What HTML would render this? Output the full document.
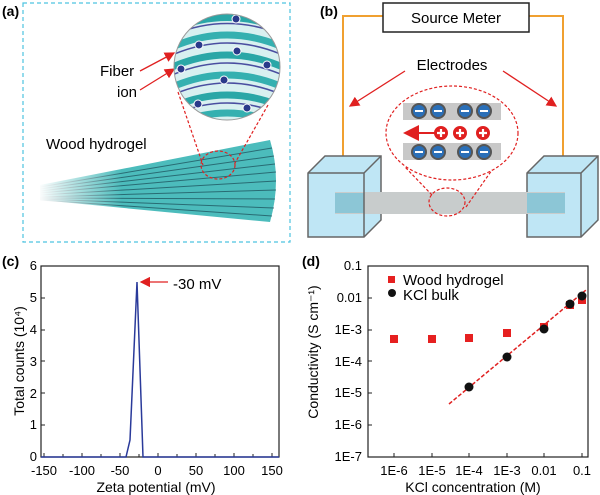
<!DOCTYPE html>
<html><head><style>
body{margin:0;background:#fff}
svg{display:block;font-family:"Liberation Sans",Arial,sans-serif}
</style></head><body>
<svg width="600" height="495" viewBox="0 0 600 495" xmlns="http://www.w3.org/2000/svg">
<defs>
<linearGradient id="fade" x1="0" x2="1" y1="0" y2="0">
<stop offset="0" stop-color="#fff" stop-opacity="1"/><stop offset="0.35" stop-color="#fff" stop-opacity="0"/></linearGradient>
<clipPath id="cc"><circle cx="227" cy="67" r="53"/></clipPath>
<marker id="ar" markerWidth="8" markerHeight="8" refX="7" refY="4" orient="auto"><path d="M0,0 L8,4 L0,8 Z" fill="#e02020"/></marker>
</defs>
<!-- (a) -->
<rect x="23" y="3" width="267" height="239" fill="none" stroke="#4dc3e0" stroke-width="1.2" stroke-dasharray="4,3"/>
<text x="2" y="16" font-size="14" font-weight="bold">(a)</text>
<g>
<path d="M40,185 L270,140 Q282,180 270,222 L40,200 Z" fill="#4cbcbc"/>
<g stroke="#1a4a55" stroke-width="1" opacity="0.7">
<line x1="40" y1="187" x2="272" y2="148"/><line x1="40" y1="189" x2="274" y2="156"/><line x1="40" y1="191" x2="275" y2="164"/><line x1="40" y1="193" x2="276" y2="172"/><line x1="40" y1="195" x2="276" y2="181"/><line x1="40" y1="197" x2="276" y2="190"/><line x1="40" y1="198" x2="275" y2="199"/><line x1="40" y1="199" x2="274" y2="208"/><line x1="40" y1="200" x2="272" y2="216"/>
</g>
<rect x="38" y="135" width="240" height="90" fill="url(#fade)"/>
</g>
<text x="46" y="149" font-size="15">Wood hydrogel</text>
<text x="100" y="76" font-size="15">Fiber</text>
<text x="117" y="97" font-size="15">ion</text>
<line x1="140" y1="71" x2="174" y2="53" stroke="#e02020" stroke-width="1.3" marker-end="url(#ar)"/>
<line x1="140" y1="90" x2="174" y2="69" stroke="#e02020" stroke-width="1.3" marker-end="url(#ar)"/>
<g clip-path="url(#cc)">
<rect x="170" y="10" width="120" height="120" fill="#d8f0f0"/>
<g fill="none" stroke-width="7">
<path d="M170,30 Q227,5 285,30" stroke="#2aa7a7"/><path d="M170,48 Q227,22 285,48" stroke="#35b0b0"/>
<path d="M170,68 Q227,42 285,68" stroke="#2aa7a7"/><path d="M170,88 Q227,62 285,88" stroke="#35b0b0"/>
<path d="M170,108 Q227,82 285,108" stroke="#2aa7a7"/><path d="M170,126 Q227,100 285,126" stroke="#35b0b0"/>
</g>
<g fill="none" stroke="#4a4ea0" stroke-width="1.5">
<path d="M170,36 Q227,11 285,36"/><path d="M170,56 Q227,30 285,56"/><path d="M170,76 Q227,50 285,76"/><path d="M170,96 Q227,70 285,96"/><path d="M170,116 Q227,90 285,116"/>
</g>
<g fill="#2a3a8a" stroke="#fff" stroke-width="1">
<circle cx="236" cy="19" r="4"/><circle cx="199" cy="45" r="4"/><circle cx="237" cy="51" r="4"/><circle cx="181" cy="69" r="4"/><circle cx="224" cy="80" r="4"/><circle cx="267" cy="65" r="4"/><circle cx="198" cy="104" r="4"/><circle cx="247" cy="108" r="4"/>
</g>
</g>
<circle cx="227" cy="67" r="53" fill="none" stroke="#999" stroke-width="1"/>
<g fill="none" stroke="#e02020" stroke-width="1.2" stroke-dasharray="3,2">
<line x1="178" y1="92" x2="203" y2="165"/><line x1="268" y1="105" x2="235" y2="163"/>
<ellipse cx="218" cy="165" rx="17" ry="14"/>
</g>
<!-- (b) -->
<text x="320" y="16" font-size="14" font-weight="bold">(b)</text>
<g stroke="#f0a030" stroke-width="2" fill="none"><polyline points="383,16 343,16 343,192"/><polyline points="529,16 563,16 563,192"/></g>
<rect x="383" y="3" width="146" height="29" fill="#fff" stroke="#222" stroke-width="1.5"/>
<text x="456" y="23" font-size="15" text-anchor="middle">Source Meter</text>
<text x="452" y="70" font-size="15" text-anchor="middle">Electrodes</text>
<line x1="405" y1="71" x2="350" y2="106" stroke="#e02020" stroke-width="1.3" marker-end="url(#ar)"/>
<line x1="503" y1="71" x2="556" y2="106" stroke="#e02020" stroke-width="1.3" marker-end="url(#ar)"/>
<ellipse cx="452" cy="133" rx="66" ry="47" fill="none" stroke="#e02020" stroke-width="1.2" stroke-dasharray="3,2"/>
<rect x="403" y="103" width="98" height="17" fill="#c8c8c8"/><rect x="403" y="143" width="98" height="17" fill="#c8c8c8"/>
<g fill="#2a6fb8" stroke="#555" stroke-width="2">
<circle cx="419" cy="111" r="7"/><circle cx="438" cy="111" r="7"/><circle cx="465" cy="111" r="7"/><circle cx="484" cy="111" r="7"/>
<circle cx="419" cy="152" r="7"/><circle cx="438" cy="152" r="7"/><circle cx="465" cy="152" r="7"/><circle cx="484" cy="152" r="7"/></g>
<g stroke="#fff" stroke-width="2"><line x1="415" y1="111" x2="423" y2="111"/><line x1="434" y1="111" x2="442" y2="111"/><line x1="461" y1="111" x2="469" y2="111"/><line x1="480" y1="111" x2="488" y2="111"/><line x1="415" y1="152" x2="423" y2="152"/><line x1="434" y1="152" x2="442" y2="152"/><line x1="461" y1="152" x2="469" y2="152"/><line x1="480" y1="152" x2="488" y2="152"/></g>
<line x1="440" y1="133" x2="405" y2="133" stroke="#e02020" stroke-width="2" marker-end="url(#ar)"/>
<g fill="#e02020"><circle cx="441" cy="133" r="7"/><circle cx="460" cy="133" r="7"/><circle cx="483" cy="133" r="7"/></g>
<g stroke="#fff" stroke-width="2.2"><path d="M437,133h8M441,129v8M456,133h8M460,129v8M479,133h8M483,129v8"/></g>
<!-- tanks -->
<g stroke="#666" stroke-width="1.5" fill="#bfe6f5">
<path d="M308,173 L325,156 L381,156 L381,220 L364,237 L308,237 Z"/>
<path d="M527,173 L544,156 L598,156 L598,220 L581,237 L527,237 Z"/></g>
<rect x="335" y="192" width="230" height="22" fill="#c8cccc"/>
<rect x="335" y="193" width="29" height="20" fill="#8cc6d6"/><rect x="527" y="193" width="38" height="20" fill="#8cc6d6"/>
<g stroke="#666" stroke-width="1.5" fill="none">
<path d="M308,173 L364,173 L364,237 M364,173 L381,156"/><path d="M527,173 L581,173 L581,237 M581,173 L598,156"/></g>
<ellipse cx="447" cy="202" rx="18" ry="14" fill="none" stroke="#e02020" stroke-width="1.2" stroke-dasharray="3,2"/>
<g stroke="#e02020" stroke-width="1.2" stroke-dasharray="3,2"><line x1="432" y1="195" x2="405" y2="167"/><line x1="466" y1="207" x2="492" y2="170"/></g>
<!-- (c) -->
<text x="2" y="266" font-size="14" font-weight="bold">(c)</text>
<rect x="41" y="266" width="238" height="191" fill="none" stroke="#222" stroke-width="1.2"/>
<g font-size="13" text-anchor="end">
<text x="37" y="461">0</text><text x="37" y="429">1</text><text x="37" y="398">2</text><text x="37" y="366">3</text><text x="37" y="334">4</text><text x="37" y="302">5</text><text x="37" y="270">6</text></g>
<g stroke="#222" stroke-width="1"><path d="M41,425h4M41,393h4M41,361h4M41,330h4M41,298h4M44,457v-4M63,457v-3M82,457v-4M101,457v-3M120,457v-4M139,457v-3M158,457v-4M177,457v-3M196,457v-4M215,457v-3M234,457v-4M253,457v-3M272,457v-4"/></g>
<g font-size="13" text-anchor="middle">
<text x="44" y="475">-150</text><text x="82" y="475">-100</text><text x="120" y="475">-50</text><text x="158" y="475">0</text><text x="196" y="475">50</text><text x="234" y="475">100</text><text x="272" y="475">150</text></g>
<text x="156" y="492" font-size="14" text-anchor="middle">Zeta potential (mV)</text>
<text transform="translate(24,361) rotate(-90)" font-size="14" text-anchor="middle">Total counts (10⁴)</text>
<polyline points="41,457 126,457 130,440 137,282 143,457 279,457" fill="none" stroke="#2a3a9a" stroke-width="1.5"/>
<line x1="168" y1="282" x2="141" y2="282" stroke="#e02020" stroke-width="1.3" marker-end="url(#ar)"/>
<text x="173" y="289" font-size="15">-30 mV</text>
<!-- (d) -->
<text x="302" y="266" font-size="14" font-weight="bold">(d)</text>
<rect x="368" y="266" width="220" height="191" fill="none" stroke="#222" stroke-width="1.2"/>
<g font-size="13" text-anchor="end">
<text x="362" y="270">0.1</text><text x="362" y="302">0.01</text><text x="362" y="334">1E-3</text><text x="362" y="366">1E-4</text><text x="362" y="397">1E-5</text><text x="362" y="429">1E-6</text><text x="362" y="461">1E-7</text></g>
<g stroke="#222" stroke-width="1"><path d="M368,298h4M368,330h4M368,361h4M368,393h4M368,425h4M394,457v-4M432,457v-4M469,457v-4M507,457v-4M544,457v-4M582,457v-4"/></g>
<g font-size="13" text-anchor="middle">
<text x="394" y="475">1E-6</text><text x="432" y="475">1E-5</text><text x="469" y="475">1E-4</text><text x="507" y="475">1E-3</text><text x="544" y="475">0.01</text><text x="582" y="475">0.1</text></g>
<text x="473" y="492" font-size="14" text-anchor="middle">KCl concentration (M)</text>
<text transform="translate(318,352) rotate(-90)" font-size="14" text-anchor="middle">Conductivity (S cm⁻¹)</text>
<line x1="449" y1="404" x2="586" y2="290" stroke="#e02020" stroke-width="1.5" stroke-dasharray="4,2"/>
<g fill="#e62020">
<rect x="390" y="335" width="8" height="8"/><rect x="428" y="335" width="8" height="8"/><rect x="465" y="334" width="8" height="8"/><rect x="503" y="329" width="8" height="8"/><rect x="540" y="323" width="8" height="8"/><rect x="566" y="301" width="8" height="8"/><rect x="578" y="296" width="8" height="8"/>
<rect x="388" y="276" width="7" height="7"/></g>
<g fill="#111">
<circle cx="469" cy="387" r="4.5"/><circle cx="507" cy="357" r="4.5"/><circle cx="544" cy="329" r="4.5"/><circle cx="570" cy="304" r="4.5"/><circle cx="582" cy="296" r="4.5"/>
<circle cx="392" cy="293" r="4"/></g>
<text x="403" y="285" font-size="15">Wood hydrogel</text>
<text x="403" y="300" font-size="15">KCl bulk</text>
</svg>
</body></html>
